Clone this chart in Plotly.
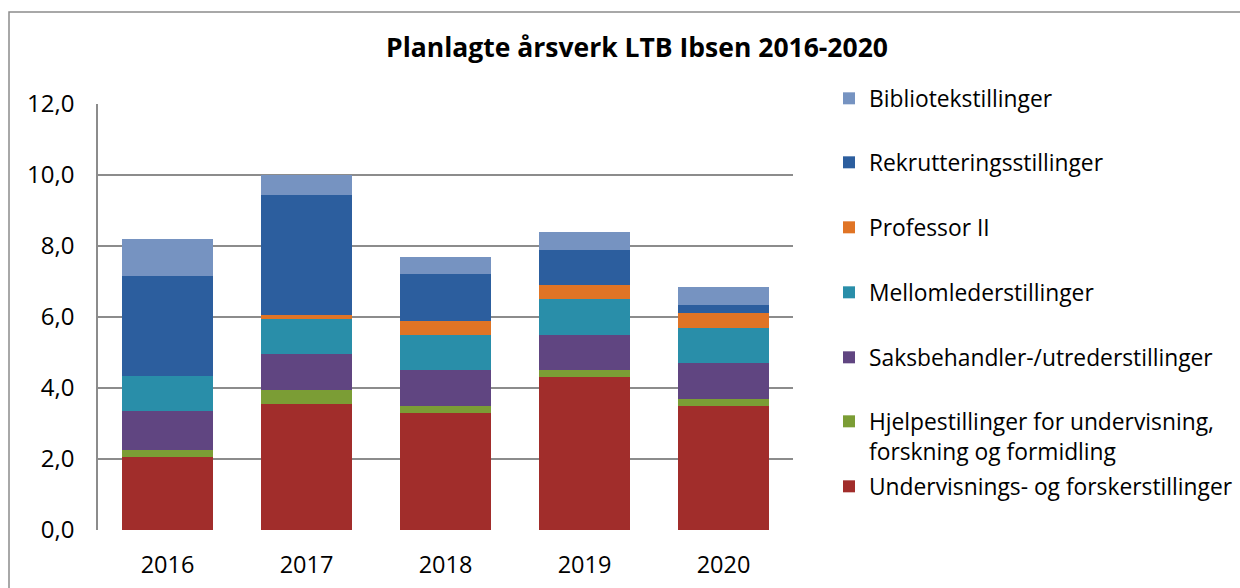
import plotly.graph_objects as go

years = ["2016", "2017", "2018", "2019", "2020"]

undervisning = [2.05, 3.55, 3.3, 4.3, 3.5]
hjelpe = [0.2, 0.4, 0.2, 0.2, 0.2]
saksbehandler = [1.1, 1.0, 1.0, 1.0, 1.0]
mellomleder = [1.0, 1.0, 1.0, 1.0, 1.0]
professor2 = [0.0, 0.1, 0.4, 0.4, 0.4]
rekruttering = [2.8, 3.4, 1.3, 1.0, 0.25]
bibliotek = [1.05, 0.55, 0.5, 0.5, 0.5]

series = [
    ("Undervisnings- og forskerstillinger", undervisning, "#A12D2B"),
    ("Hjelpestillinger for undervisning,<br>forskning og formidling", hjelpe, "#7B9D35"),
    ("Saksbehandler-/utrederstillinger", saksbehandler, "#604581"),
    ("Mellomlederstillinger", mellomleder, "#298EA9"),
    ("Professor II", professor2, "#E07425"),
    ("Rekrutteringsstillinger", rekruttering, "#2C5E9E"),
    ("Bibliotekstillinger", bibliotek, "#7693C1"),
]
# vertical pixel centre of each legend entry's first line, same order as series
legend_rows = [488, 423, 359, 294, 229, 164, 100]

FONT = "Open Sans"
L, R, T, B = 98, 793, 104, 530
PW, PH = R - L, B - T
LEG_X = 829

fig = go.Figure()
legends = {}
for i, (name, vals, col) in enumerate(series):
    key = "legend" if i == 0 else f"legend{i + 1}"
    fig.add_trace(go.Bar(
        x=years, y=vals, name=name, marker=dict(color=col, line=dict(width=0)),
        legend=key, showlegend=True,
    ))
    legends[key] = dict(
        x=(LEG_X - L) / PW, xanchor="left",
        y=(B - (legend_rows[i] - 23)) / PH, yanchor="top",
        valign="top",
        font=dict(family=FONT, size=22.8, color="#000000"),
        bgcolor="rgba(0,0,0,0)", itemwidth=30,
    )

fig.update_layout(
    showlegend=True,
    barmode="stack",
    bargap=0.35,
    width=1240, height=588,
    margin=dict(l=L, r=1240 - R, t=T, b=588 - B, autoexpand=False),
    paper_bgcolor="white", plot_bgcolor="white",
    separators=", ",
    font=dict(family=FONT, size=23.5, color="#000000"),
    title=dict(text="<b>Planlagte årsverk LTB Ibsen 2016-2020</b>",
               x=637 / 1240, xanchor="center", y=1 - 48 / 588, yanchor="middle",
               font=dict(family=FONT, size=26.5, color="#000000")),
    xaxis=dict(showgrid=False, showline=False, ticks="", ticklabelstandoff=18,
               tickfont=dict(family=FONT, size=23.5)),
    yaxis=dict(range=[0, 12], dtick=2, tickformat=".1f", showgrid=True,
               gridcolor="#8C8C8C", gridwidth=1.5, showline=True,
               linecolor="#8C8C8C", linewidth=1.5, zeroline=False, ticks="",
               ticklabelstandoff=17, tickfont=dict(family=FONT, size=24)),
    shapes=[dict(type="rect", xref="paper", yref="paper",
                 x0=(9 - L) / PW, x1=2.0, y0=-1.0, y1=(B - 12) / PH,
                 line=dict(color="#8C8C8C", width=1.5), fillcolor="rgba(0,0,0,0)",
                 layer="below")],
    **legends,
)

fig.write_html("out.html", config={"displayModeBar": False},
               post_script="document.body.style.margin='0';")
